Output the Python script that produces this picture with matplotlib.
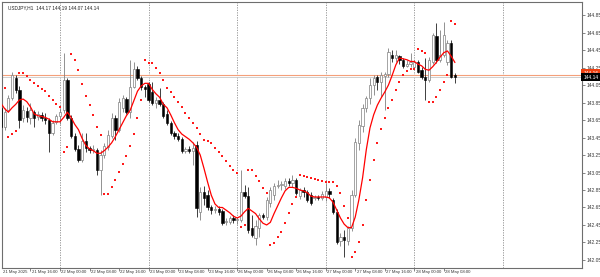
import matplotlib
matplotlib.use("Agg")
import matplotlib.pyplot as plt
import matplotlib.transforms as mtransforms
import numpy as np

plt.rcParams["font.family"] = ["Liberation Sans", "DejaVu Sans"]

symbol = "USDJPY,H1"
header_values = ["144.17", "144.19", "144.07", "144.14"]
bid = 144.14
ask = 144.165

opens = [143.79, 143.57, 143.76, 143.90, 144.13, 143.99, 143.67, 143.75, 143.67, 143.74,
         143.68, 143.71, 143.67, 143.65, 143.50, 143.63, 143.70, 143.76, 144.11, 143.67,
         143.47, 143.32, 143.19, 143.41, 143.33, 143.31, 143.31, 143.08, 143.25, 143.34,
         143.47, 143.67, 143.54, 143.79, 143.89, 143.74, 144.03, 144.23, 144.13, 144.03,
         144.06, 143.97, 143.84, 143.88, 143.83, 143.72, 143.62, 143.50, 143.47, 143.43,
         143.30, 143.32, 143.30, 143.36, 142.60, 142.83, 142.79, 142.65, 142.62, 142.63,
         142.61, 142.48, 142.48, 142.53, 142.51, 142.51, 142.83, 142.78, 142.42, 142.30,
         142.42, 142.56, 142.54, 142.70, 142.79, 142.90, 142.91, 142.90, 142.95, 142.93,
         142.96, 142.78, 142.85, 142.83, 142.79, 142.76, 142.77, 142.76, 142.77, 142.84,
         142.74, 142.60, 142.27, 142.31, 142.27, 142.41, 142.79, 143.39, 143.58, 143.79,
         143.90, 144.05, 144.14, 144.08, 144.15, 144.18, 144.39, 144.36, 144.38, 144.34,
         144.27, 144.29, 144.26, 144.31, 144.22, 144.14, 144.11, 144.31, 144.61, 144.34,
         144.39, 144.31, 144.53, 144.17]
highs = [143.88, 143.79, 143.94, 144.20, 144.16, 144.04, 143.82, 143.80, 143.84, 143.76,
         143.75, 143.74, 143.73, 143.67, 143.65, 143.72, 143.79, 144.42, 144.13, 143.71,
         143.50, 143.36, 143.50, 143.50, 143.35, 143.36, 143.33, 143.31, 143.39, 143.54,
         143.73, 143.71, 143.90, 143.94, 143.91, 144.34, 144.31, 144.27, 144.15, 144.05,
         144.08, 144.08, 143.91, 144.02, 143.86, 143.76, 143.64, 143.52, 143.50, 143.46,
         143.34, 143.35, 143.40, 143.41, 142.88, 142.90, 142.85, 142.68, 142.67, 142.67,
         142.63, 142.53, 142.55, 142.56, 142.54, 143.08, 142.91, 142.88, 142.56, 142.51,
         142.59, 142.59, 142.77, 142.88, 142.93, 142.96, 142.95, 142.99, 142.99, 143.02,
         142.99, 142.87, 142.88, 142.85, 142.83, 142.79, 142.79, 142.84, 142.93, 142.87,
         142.76, 142.63, 142.36, 142.39, 142.44, 142.85, 143.44, 143.65, 143.83, 143.92,
         144.13, 144.16, 144.16, 144.20, 144.20, 144.47, 144.45, 144.45, 144.39, 144.36,
         144.34, 144.42, 144.34, 144.34, 144.26, 144.36, 144.37, 144.64, 144.76, 144.68,
         144.77, 144.56, 144.56, 144.19]
lows = [143.51, 143.54, 143.74, 143.88, 143.96, 143.56, 143.63, 143.63, 143.60, 143.57,
        143.65, 143.64, 143.60, 143.28, 143.48, 143.60, 143.60, 143.73, 143.65, 143.44,
        143.30, 143.17, 143.17, 143.28, 143.27, 143.27, 143.02, 142.79, 143.22, 143.31,
        143.44, 143.42, 143.51, 143.74, 143.72, 143.67, 144.02, 144.11, 143.99, 143.91,
        143.86, 143.82, 143.79, 143.81, 143.67, 143.59, 143.48, 143.43, 143.41, 143.27,
        143.27, 143.27, 143.14, 142.54, 142.51, 142.68, 142.62, 142.58, 142.59, 142.56,
        142.45, 142.45, 142.46, 142.47, 142.46, 142.48, 142.76, 142.36, 142.31, 142.22,
        142.31, 142.52, 142.51, 142.65, 142.74, 142.87, 142.85, 142.86, 142.90, 142.88,
        142.79, 142.75, 142.77, 142.71, 142.68, 142.74, 142.74, 142.74, 142.72, 142.76,
        142.58, 142.23, 142.21, 142.08, 142.22, 142.38, 142.77, 143.31, 143.51, 143.74,
        143.83, 143.94, 143.99, 143.91, 143.76, 144.14, 144.31, 144.31, 144.29, 144.24,
        144.26, 144.26, 144.24, 144.19, 144.12, 143.88, 144.08, 144.29, 144.30, 144.31,
        144.37, 144.28, 144.13, 144.07]
closes = [143.57, 143.74, 143.90, 144.16, 143.99, 143.65, 143.76, 143.68, 143.76, 143.67,
          143.72, 143.67, 143.65, 143.50, 143.62, 143.70, 143.74, 144.11, 143.67, 143.47,
          143.32, 143.19, 143.41, 143.33, 143.31, 143.32, 143.08, 143.25, 143.35, 143.48,
          143.67, 143.54, 143.86, 143.90, 143.74, 144.03, 144.23, 144.13, 144.03, 144.00,
          143.88, 143.84, 143.88, 143.83, 143.70, 143.62, 143.50, 143.47, 143.43, 143.30,
          143.32, 143.30, 143.33, 142.64, 142.83, 142.76, 142.65, 142.62, 142.63, 142.60,
          142.47, 142.50, 142.53, 142.51, 142.51, 142.83, 142.78, 142.39, 142.34, 142.44,
          142.56, 142.54, 142.74, 142.85, 142.90, 142.91, 142.92, 142.95, 142.93, 142.96,
          142.82, 142.85, 142.83, 142.74, 142.70, 142.77, 142.76, 142.80, 142.84, 142.80,
          142.60, 142.26, 142.31, 142.28, 142.41, 142.79, 143.40, 143.59, 143.79, 143.90,
          144.05, 144.13, 144.08, 144.16, 144.18, 144.43, 144.36, 144.39, 144.34, 144.27,
          144.29, 144.31, 144.31, 144.20, 144.14, 144.11, 144.34, 144.62, 144.34, 144.39,
          144.62, 144.53, 144.14, 144.14]
sar = [144.13, 144.02, 143.46, 143.49, 143.52, 144.19, 144.19, 144.15, 144.11, 144.07,
       144.04, 144.00, 143.98, 143.92, 143.88, 143.83, 143.80, 143.28, 143.34, 144.40,
       144.34, 144.22, 144.06, 143.92, 143.82, 143.71, 143.57, 143.48, 142.80, 142.80,
       142.88, 142.96, 143.06, 143.15, 143.24, 143.35, 143.49, 143.67, 143.88, 144.34,
       144.30, 144.30, 144.24, 144.19, 144.11, 144.02, 143.97, 143.91, 143.86, 143.80,
       143.73, 143.67, 143.62, 143.56, 143.49, 143.42, 143.41, 143.39, 143.33, 143.28,
       143.24, 143.18, 143.12, 143.08, 143.04, 142.43, 142.45, 143.08, 143.08, 143.01,
       142.95, 142.87, 142.82, 142.22, 142.24, 142.31, 142.37, 142.47, 142.59, 142.69,
       142.77, 143.02, 143.01, 143.00, 142.99, 142.98, 142.96, 142.95, 142.94, 142.94,
       142.94, 142.90, 142.82, 142.67, 142.53, 142.08, 142.14, 142.26, 142.45, 142.74,
       142.96, 143.19, 143.39, 143.55, 143.67, 143.79, 143.88, 143.99, 144.08, 144.16,
       144.21, 144.23, 144.23, 144.46, 144.44, 144.42, 143.86, 143.86, 143.91, 143.99,
       144.08, 144.16, 144.78, 144.75]
ma = [143.84, 143.78, 143.74, 143.79, 143.83, 143.88, 143.89, 143.86, 143.80, 143.72,
      143.70, 143.69, 143.68, 143.66, 143.63, 143.63, 143.63, 143.68, 143.74, 143.68,
      143.60, 143.54, 143.44, 143.36, 143.32, 143.30, 143.27, 143.27, 143.30, 143.34,
      143.39, 143.46, 143.54, 143.62, 143.70, 143.76, 143.87, 143.98, 144.04, 144.07,
      144.07, 144.00, 143.95, 143.91, 143.83, 143.79, 143.71, 143.62, 143.54, 143.49,
      143.46, 143.43, 143.39, 143.34, 143.25, 143.10, 142.94, 142.79, 142.69, 142.65,
      142.65, 142.62, 142.59, 142.55, 142.53, 142.55, 142.60, 142.64, 142.61, 142.58,
      142.52, 142.47, 142.45, 142.48, 142.58, 142.67, 142.76, 142.84, 142.88, 142.88,
      142.87, 142.85, 142.84, 142.82, 142.78, 142.77, 142.77, 142.77, 142.77, 142.76,
      142.71, 142.62, 142.53, 142.46, 142.42, 142.42, 142.54, 142.74, 142.99, 143.31,
      143.56, 143.71, 143.82, 143.90, 143.97, 144.05, 144.16, 144.28, 144.36, 144.35,
      144.34, 144.32, 144.32, 144.29, 144.27, 144.23, 144.22, 144.26, 144.31, 144.37,
      144.42, 144.44, 144.38, 144.31]

price_ticks = [142.05, 142.25, 142.45, 142.65, 142.85, 143.05, 143.25, 143.45,
               143.65, 143.85, 144.05, 144.25, 144.45, 144.65, 144.85]
time_label_bars = [0, 8, 16, 24, 32, 40, 48, 56, 64, 72, 80, 88, 96, 104, 112, 120]
time_labels = ["21 May 2025", "21 May 16:00", "22 May 00:00", "22 May 08:00",
               "22 May 16:00", "23 May 00:00", "23 May 08:00", "23 May 16:00",
               "26 May 00:00", "26 May 08:00", "26 May 16:00", "27 May 00:00",
               "27 May 08:00", "27 May 16:00", "28 May 00:00", "28 May 08:00"]
day_separator_bars = [16, 40, 64, 88, 112, 136]

W, H = 600, 277
fig = plt.figure(figsize=(W / 100, H / 100), dpi=100)
fig.patch.set_facecolor("white")
ax = fig.add_axes([2 / W, 9 / H, 580 / W, 266 / H])
ax.set_facecolor("white")

n = len(opens)
x = np.arange(n)
o = np.array(opens); h = np.array(highs); l = np.array(lows); c = np.array(closes)
up = c >= o

ax.set_xlim(0.28, 157.46)
ax.set_ylim(141.958, 145.0)

# day separators
for b in day_separator_bars:
    ax.axvline(b, color="#8c8c8c", lw=0.6, ls=(0, (1.5, 1.5)), zorder=1)

# bid / ask lines
ax.axhline(ask, color="#f4a07a", lw=0.8, zorder=1)
ax.axhline(bid, color="#c8c8c8", lw=0.6, zorder=1)

# wicks
ax.vlines(x[up], l[up], h[up], color="#808080", lw=0.6, zorder=2)
ax.vlines(x[~up], l[~up], h[~up], color="#202020", lw=0.6, zorder=2)
# bodies
bw = 0.62
body_lo = np.minimum(o, c)
body_h = np.maximum(np.abs(c - o), 0.004)
ax.bar(x[up], body_h[up], bottom=body_lo[up], width=bw, color="white",
       edgecolor="#808080", linewidth=0.5, zorder=3)
ax.bar(x[~up], body_h[~up], bottom=body_lo[~up], width=bw, color="black",
       edgecolor="black", linewidth=0.4, zorder=3)

# moving average
ax.plot(x, ma, color="#ff0000", lw=0.9, zorder=4)
# parabolic SAR
ax.plot(x, sar, ls="none", marker="s", markersize=1.6, color="#ff1a1a",
        markeredgewidth=0, zorder=5)

# axes styling
for side in ["left", "top", "right", "bottom"]:
    ax.spines[side].set_color("#6e6e6e")
    ax.spines[side].set_linewidth(0.8)

ax.yaxis.tick_right()
ax.set_yticks(price_ticks)
ax.set_yticklabels([f"{p:.2f}" for p in price_ticks])
ax.tick_params(axis="y", which="both", direction="out", length=2.2, width=0.5,
               colors="#555555", labelsize=3.5, pad=0.8, labelcolor="#333333")

ax.set_xticks(time_label_bars[1:])
ax.set_xticklabels([])
ax.tick_params(axis="x", direction="out", length=2.2, width=0.5, colors="#555555")

xtrans = mtransforms.blended_transform_factory(ax.transData, ax.transAxes)
for b, lab in zip(time_label_bars, time_labels):
    xpos = max(b, 0.28)
    off = mtransforms.ScaledTranslation(1.3 / 100, -4.2 / 100, fig.dpi_scale_trans)
    ax.text(xpos, 0.0, lab, transform=xtrans + off, fontsize=3.1, color="#333333",
            ha="left", va="center", clip_on=False)

# header
ax.text(0.011, 0.988, symbol + "  " + " ".join(header_values), transform=ax.transAxes,
        fontsize=3.4, color="#222222", ha="left", va="top")

# price labels on right axis
trans = mtransforms.blended_transform_factory(ax.transAxes, ax.transData)
ax.text(1.002, ask + 0.02, f"{ask:.2f}", transform=trans, fontsize=3.5, color="white",
        ha="left", va="center", clip_on=False, zorder=6,
        bbox=dict(boxstyle="square,pad=0.35", fc="#f04010", ec="none"))
ax.text(1.002, bid, f"{bid:.2f}", transform=trans, fontsize=3.5, color="white",
        ha="left", va="center", clip_on=False, zorder=7,
        bbox=dict(boxstyle="square,pad=0.35", fc="black", ec="none"))

fig.savefig("out.png", dpi=100, facecolor="white")
